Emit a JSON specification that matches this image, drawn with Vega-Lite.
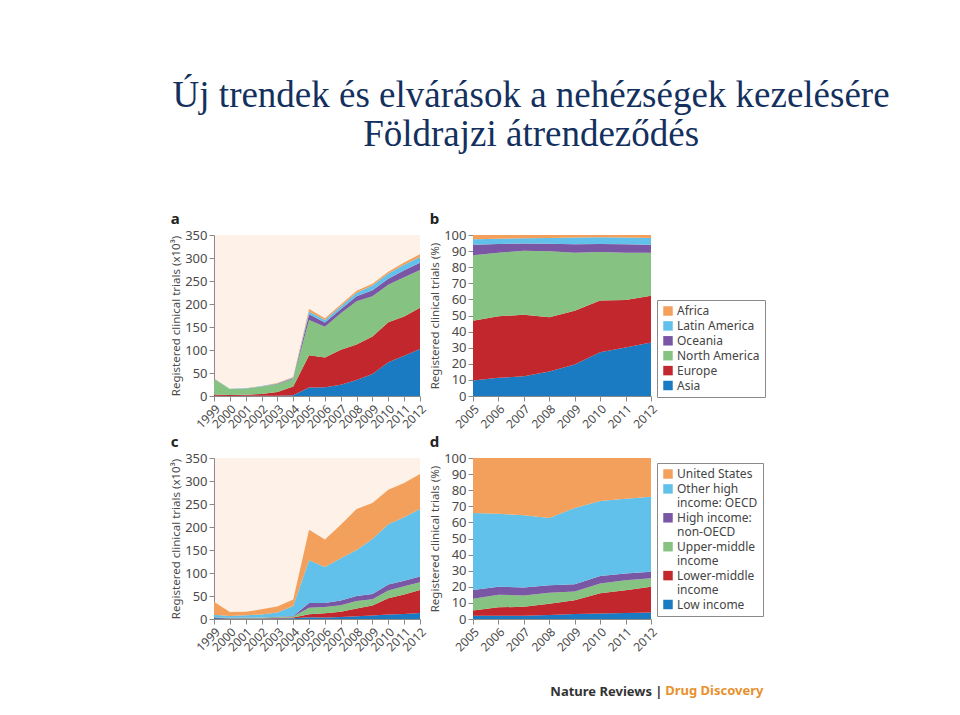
{
  "$schema": "https://vega.github.io/schema/vega-lite/v6.json",
  "background": "white",
  "padding": {"left": 170, "top": 77, "right": 5, "bottom": 5},
  "title": {
    "text": ["Új trendek és elvárások a nehézségek kezelésére", "Földrajzi átrendeződés"],
    "font": "Liberation Serif",
    "fontSize": 37,
    "fontWeight": "normal",
    "color": "#13305e",
    "lineHeight": 39,
    "anchor": "middle",
    "frame": "bounds",
    "dx": 63,
    "offset": 58
  },
  "datasets": {
    "regionOrder": [
      {"region": "Asia", "k": 1}, {"region": "Europe", "k": 2}, {"region": "North America", "k": 3},
      {"region": "Oceania", "k": 4}, {"region": "Latin America", "k": 5}, {"region": "Africa", "k": 6}
    ],
    "incomeOrder": [
      {"group": "Low income", "k": 1}, {"group": "Lower-middle income", "k": 2}, {"group": "Upper-middle income", "k": 3},
      {"group": "High income: non-OECD", "k": 4}, {"group": "Other high income: OECD", "k": 5}, {"group": "United States", "k": 6}
    ],
    "regions": [
      {"year": 1999, "region": "Asia", "value": 0.3}, {"year": 1999, "region": "Europe", "value": 3}, {"year": 1999, "region": "North America", "value": 33}, {"year": 1999, "region": "Oceania", "value": 0.5}, {"year": 1999, "region": "Latin America", "value": 0.5}, {"year": 1999, "region": "Africa", "value": 0.5},
      {"year": 2000, "region": "Asia", "value": 0.2}, {"year": 2000, "region": "Europe", "value": 2}, {"year": 2000, "region": "North America", "value": 12.8}, {"year": 2000, "region": "Oceania", "value": 0.3}, {"year": 2000, "region": "Latin America", "value": 0.4}, {"year": 2000, "region": "Africa", "value": 0.3},
      {"year": 2001, "region": "Asia", "value": 0.3}, {"year": 2001, "region": "Europe", "value": 2.5}, {"year": 2001, "region": "North America", "value": 13}, {"year": 2001, "region": "Oceania", "value": 0.4}, {"year": 2001, "region": "Latin America", "value": 0.4}, {"year": 2001, "region": "Africa", "value": 0.4},
      {"year": 2002, "region": "Asia", "value": 0.4}, {"year": 2002, "region": "Europe", "value": 4}, {"year": 2002, "region": "North America", "value": 16}, {"year": 2002, "region": "Oceania", "value": 0.5}, {"year": 2002, "region": "Latin America", "value": 0.6}, {"year": 2002, "region": "Africa", "value": 0.5},
      {"year": 2003, "region": "Asia", "value": 0.8}, {"year": 2003, "region": "Europe", "value": 8}, {"year": 2003, "region": "North America", "value": 17}, {"year": 2003, "region": "Oceania", "value": 0.7}, {"year": 2003, "region": "Latin America", "value": 0.8}, {"year": 2003, "region": "Africa", "value": 0.7},
      {"year": 2004, "region": "Asia", "value": 1.5}, {"year": 2004, "region": "Europe", "value": 19}, {"year": 2004, "region": "North America", "value": 16.5}, {"year": 2004, "region": "Oceania", "value": 1.5}, {"year": 2004, "region": "Latin America", "value": 1.5}, {"year": 2004, "region": "Africa", "value": 1.5},
      {"year": 2005, "region": "Asia", "value": 18.3}, {"year": 2005, "region": "Europe", "value": 70.1}, {"year": 2005, "region": "North America", "value": 76.7}, {"year": 2005, "region": "Oceania", "value": 12.5}, {"year": 2005, "region": "Latin America", "value": 6.2}, {"year": 2005, "region": "Africa", "value": 5.1},
      {"year": 2006, "region": "Asia", "value": 19.1}, {"year": 2006, "region": "Europe", "value": 64.6}, {"year": 2006, "region": "North America", "value": 66.8}, {"year": 2006, "region": "Oceania", "value": 9.1}, {"year": 2006, "region": "Latin America", "value": 5.6}, {"year": 2006, "region": "Africa", "value": 3.9},
      {"year": 2007, "region": "Asia", "value": 24.3}, {"year": 2007, "region": "Europe", "value": 76.2}, {"year": 2007, "region": "North America", "value": 79.2}, {"year": 2007, "region": "Oceania", "value": 9.0}, {"year": 2007, "region": "Latin America", "value": 6.4}, {"year": 2007, "region": "Africa", "value": 4.0},
      {"year": 2008, "region": "Asia", "value": 35.0}, {"year": 2008, "region": "Europe", "value": 76.9}, {"year": 2008, "region": "North America", "value": 93.9}, {"year": 2008, "region": "Oceania", "value": 10.8}, {"year": 2008, "region": "Latin America", "value": 8.0}, {"year": 2008, "region": "Africa", "value": 4.4},
      {"year": 2009, "region": "Asia", "value": 47.8}, {"year": 2009, "region": "Europe", "value": 81.5}, {"year": 2009, "region": "North America", "value": 87.8}, {"year": 2009, "region": "Oceania", "value": 12.7}, {"year": 2009, "region": "Latin America", "value": 10.2}, {"year": 2009, "region": "Africa", "value": 3.9},
      {"year": 2010, "region": "Asia", "value": 73.4}, {"year": 2010, "region": "Europe", "value": 86.9}, {"year": 2010, "region": "North America", "value": 81.3}, {"year": 2010, "region": "Oceania", "value": 13.2}, {"year": 2010, "region": "Latin America", "value": 11.3}, {"year": 2010, "region": "Africa", "value": 3.8},
      {"year": 2011, "region": "Asia", "value": 87.3}, {"year": 2011, "region": "Europe", "value": 85.6}, {"year": 2011, "region": "North America", "value": 85.0}, {"year": 2011, "region": "Oceania", "value": 15.4}, {"year": 2011, "region": "Latin America", "value": 12.2}, {"year": 2011, "region": "Africa", "value": 4.6},
      {"year": 2012, "region": "Asia", "value": 102.3}, {"year": 2012, "region": "Europe", "value": 89.6}, {"year": 2012, "region": "North America", "value": 82.2}, {"year": 2012, "region": "Oceania", "value": 15.4}, {"year": 2012, "region": "Latin America", "value": 12.6}, {"year": 2012, "region": "Africa", "value": 5.9}
    ],
    "income": [
      {"year": 1999, "group": "Low income", "value": 2}, {"year": 1999, "group": "Lower-middle income", "value": 0.5}, {"year": 1999, "group": "Upper-middle income", "value": 1}, {"year": 1999, "group": "High income: non-OECD", "value": 0.5}, {"year": 1999, "group": "Other high income: OECD", "value": 5}, {"year": 1999, "group": "United States", "value": 28.5},
      {"year": 2000, "group": "Low income", "value": 1}, {"year": 2000, "group": "Lower-middle income", "value": 0.5}, {"year": 2000, "group": "Upper-middle income", "value": 0.5}, {"year": 2000, "group": "High income: non-OECD", "value": 0.5}, {"year": 2000, "group": "Other high income: OECD", "value": 4}, {"year": 2000, "group": "United States", "value": 8.5},
      {"year": 2001, "group": "Low income", "value": 1}, {"year": 2001, "group": "Lower-middle income", "value": 0.5}, {"year": 2001, "group": "Upper-middle income", "value": 1}, {"year": 2001, "group": "High income: non-OECD", "value": 0.5}, {"year": 2001, "group": "Other high income: OECD", "value": 5}, {"year": 2001, "group": "United States", "value": 8},
      {"year": 2002, "group": "Low income", "value": 1}, {"year": 2002, "group": "Lower-middle income", "value": 0.5}, {"year": 2002, "group": "Upper-middle income", "value": 1.5}, {"year": 2002, "group": "High income: non-OECD", "value": 0.5}, {"year": 2002, "group": "Other high income: OECD", "value": 6.5}, {"year": 2002, "group": "United States", "value": 11},
      {"year": 2003, "group": "Low income", "value": 1}, {"year": 2003, "group": "Lower-middle income", "value": 1}, {"year": 2003, "group": "Upper-middle income", "value": 2}, {"year": 2003, "group": "High income: non-OECD", "value": 1}, {"year": 2003, "group": "Other high income: OECD", "value": 9}, {"year": 2003, "group": "United States", "value": 13},
      {"year": 2004, "group": "Low income", "value": 1.5}, {"year": 2004, "group": "Lower-middle income", "value": 2}, {"year": 2004, "group": "Upper-middle income", "value": 2}, {"year": 2004, "group": "High income: non-OECD", "value": 1}, {"year": 2004, "group": "Other high income: OECD", "value": 21.5}, {"year": 2004, "group": "United States", "value": 14.5},
      {"year": 2005, "group": "Low income", "value": 3.9}, {"year": 2005, "group": "Lower-middle income", "value": 6.4}, {"year": 2005, "group": "Upper-middle income", "value": 14}, {"year": 2005, "group": "High income: non-OECD", "value": 10.5}, {"year": 2005, "group": "Other high income: OECD", "value": 92.9}, {"year": 2005, "group": "United States", "value": 66.3},
      {"year": 2006, "group": "Low income", "value": 3.5}, {"year": 2006, "group": "Lower-middle income", "value": 9}, {"year": 2006, "group": "Upper-middle income", "value": 13.5}, {"year": 2006, "group": "High income: non-OECD", "value": 8.7}, {"year": 2006, "group": "Other high income: OECD", "value": 78.5}, {"year": 2006, "group": "United States", "value": 59.8},
      {"year": 2007, "group": "Low income", "value": 4.1}, {"year": 2007, "group": "Lower-middle income", "value": 11.5}, {"year": 2007, "group": "Upper-middle income", "value": 14.4}, {"year": 2007, "group": "High income: non-OECD", "value": 10}, {"year": 2007, "group": "Other high income: OECD", "value": 92}, {"year": 2007, "group": "United States", "value": 73},
      {"year": 2008, "group": "Low income", "value": 6}, {"year": 2008, "group": "Lower-middle income", "value": 16.7}, {"year": 2008, "group": "Upper-middle income", "value": 16.3}, {"year": 2008, "group": "High income: non-OECD", "value": 11.2}, {"year": 2008, "group": "Other high income: OECD", "value": 99.9}, {"year": 2008, "group": "United States", "value": 88.9},
      {"year": 2009, "group": "Low income", "value": 7.8}, {"year": 2009, "group": "Lower-middle income", "value": 21.7}, {"year": 2009, "group": "Upper-middle income", "value": 13.4}, {"year": 2009, "group": "High income: non-OECD", "value": 11.6}, {"year": 2009, "group": "Other high income: OECD", "value": 119.4}, {"year": 2009, "group": "United States", "value": 78.1},
      {"year": 2010, "group": "Low income", "value": 9.8}, {"year": 2010, "group": "Lower-middle income", "value": 35.1}, {"year": 2010, "group": "Upper-middle income", "value": 16.9}, {"year": 2010, "group": "High income: non-OECD", "value": 13.2}, {"year": 2010, "group": "Other high income: OECD", "value": 130.9}, {"year": 2010, "group": "United States", "value": 75.1},
      {"year": 2011, "group": "Low income", "value": 11}, {"year": 2011, "group": "Lower-middle income", "value": 42}, {"year": 2011, "group": "Upper-middle income", "value": 18}, {"year": 2011, "group": "High income: non-OECD", "value": 12.4}, {"year": 2011, "group": "Other high income: OECD", "value": 137.6}, {"year": 2011, "group": "United States", "value": 74.9},
      {"year": 2012, "group": "Low income", "value": 12.9}, {"year": 2012, "group": "Lower-middle income", "value": 50.1}, {"year": 2012, "group": "Upper-middle income", "value": 16.7}, {"year": 2012, "group": "High income: non-OECD", "value": 12.9}, {"year": 2012, "group": "Other high income: OECD", "value": 146.8}, {"year": 2012, "group": "United States", "value": 75.6}
    ]
  },
  "config": {
    "font": "Noto Sans",
    "view": {"fill": "#fdf1e8", "stroke": null},
    "axis": {
      "labelFont": "Noto Sans", "labelFontSize": 13, "labelColor": "#4a4a4a",
      "titleFont": "Noto Sans", "titleFontSize": 11.5, "titleFontWeight": "normal", "titleColor": "#4a4a4a",
      "domainColor": "#8a8a8a", "tickColor": "#8a8a8a", "tickSize": 5, "grid": false,
      "labelPadding": 2, "titlePadding": 3
    },
    "axisX": {"labelFontSize": 12, "labelAngle": -45, "labelOverlap": false, "labelBound": false},
    "legend": {
      "orient": "none", "strokeColor": "#8a8a8a", "padding": 5, "fillColor": "white",
      "labelFont": "Noto Sans", "labelFontSize": 12, "labelColor": "#444444",
      "symbolType": "square", "symbolSize": 90, "symbolStrokeWidth": 0, "symbolOpacity": 1,
      "rowPadding": 2.9, "labelOffset": 3
    },
    "title": {"font": "Noto Sans", "fontSize": 15, "fontWeight": "bold", "color": "#222222", "anchor": "start", "frame": "bounds", "offset": 2}
  },
  "vconcat": [
    {
      "title": {"text": "Nature Reviews |", "orient": "bottom", "anchor": "end", "dx": -103, "offset": -12, "fontSize": 13, "color": "#333333"},
      "spacing": 4,
      "vconcat": [
        {
          "spacing": 1,
          "hconcat": [
            {
              "width": 206, "height": 161,
              "title": "a",
              "data": {"name": "regions"},
              "transform": [{"lookup": "region", "from": {"data": {"name": "regionOrder"}, "key": "region", "fields": ["k"]}}],
              "mark": {"type": "area"},
              "encoding": {
                "x": {"field": "year", "type": "quantitative", "scale": {"domain": [1999, 2012], "nice": false, "zero": false}, "axis": {"values": [1999, 2000, 2001, 2002, 2003, 2004, 2005, 2006, 2007, 2008, 2009, 2010, 2011, 2012], "format": "d", "title": null}},
                "y": {"field": "value", "type": "quantitative", "stack": "zero", "scale": {"domain": [0, 350], "nice": false}, "axis": {"values": [0, 50, 100, 150, 200, 250, 300, 350], "title": "Registered clinical trials (x10³)"}},
                "color": {"field": "region", "type": "nominal", "scale": {"domain": ["Africa", "Latin America", "Oceania", "North America", "Europe", "Asia"], "range": ["#f2a05c", "#62c1ea", "#7a57a5", "#86c383", "#c1272d", "#1b7bc2"]}, "legend": null},
                "order": {"field": "k", "type": "quantitative"}
              }
            },
            {
              "width": 178, "height": 161,
              "title": "b",
              "data": {"name": "regions"},
              "transform": [
                {"filter": "datum.year >= 2005"},
                {"lookup": "region", "from": {"data": {"name": "regionOrder"}, "key": "region", "fields": ["k"]}}
              ],
              "mark": {"type": "area"},
              "encoding": {
                "x": {"field": "year", "type": "quantitative", "scale": {"domain": [2005, 2012], "nice": false, "zero": false}, "axis": {"values": [2005, 2006, 2007, 2008, 2009, 2010, 2011, 2012], "format": "d", "title": null}},
                "y": {"field": "value", "type": "quantitative", "stack": "normalize", "scale": {"domain": [0, 1], "nice": false}, "axis": {"values": [0, 0.1, 0.2, 0.3, 0.4, 0.5, 0.6, 0.7, 0.8, 0.9, 1], "labelExpr": "format(datum.value * 100, 'd')", "title": "Registered clinical trials (%)"}},
                "color": {"field": "region", "type": "nominal", "scale": {"domain": ["Africa", "Latin America", "Oceania", "North America", "Europe", "Asia"], "range": ["#f2a05c", "#62c1ea", "#7a57a5", "#86c383", "#c1272d", "#1b7bc2"]}, "legend": {"title": null, "legendX": 184, "legendY": 65}},
                "order": {"field": "k", "type": "quantitative"}
              }
            }
          ],
          "resolve": {"scale": {"color": "independent"}, "legend": {"color": "independent"}}
        },
        {
          "spacing": 1,
          "title": {"text": "Drug Discovery", "orient": "bottom", "anchor": "end", "offset": 32, "fontSize": 13, "color": "#e8912c"},
          "hconcat": [
            {
              "width": 206, "height": 161,
              "title": "c",
              "data": {"name": "income"},
              "transform": [{"lookup": "group", "from": {"data": {"name": "incomeOrder"}, "key": "group", "fields": ["k"]}}],
              "mark": {"type": "area"},
              "encoding": {
                "x": {"field": "year", "type": "quantitative", "scale": {"domain": [1999, 2012], "nice": false, "zero": false}, "axis": {"values": [1999, 2000, 2001, 2002, 2003, 2004, 2005, 2006, 2007, 2008, 2009, 2010, 2011, 2012], "format": "d", "title": null}},
                "y": {"field": "value", "type": "quantitative", "stack": "zero", "scale": {"domain": [0, 350], "nice": false}, "axis": {"values": [0, 50, 100, 150, 200, 250, 300, 350], "title": "Registered clinical trials (x10³)"}},
                "color": {"field": "group", "type": "nominal", "scale": {"domain": ["United States", "Other high income: OECD", "High income: non-OECD", "Upper-middle income", "Lower-middle income", "Low income"], "range": ["#f2a05c", "#62c1ea", "#7a57a5", "#86c383", "#c1272d", "#1b7bc2"]}, "legend": null},
                "order": {"field": "k", "type": "quantitative"}
              }
            },
            {
              "width": 178, "height": 161,
              "title": "d",
              "data": {"name": "income"},
              "transform": [
                {"filter": "datum.year >= 2005"},
                {"lookup": "group", "from": {"data": {"name": "incomeOrder"}, "key": "group", "fields": ["k"]}}
              ],
              "mark": {"type": "area"},
              "encoding": {
                "x": {"field": "year", "type": "quantitative", "scale": {"domain": [2005, 2012], "nice": false, "zero": false}, "axis": {"values": [2005, 2006, 2007, 2008, 2009, 2010, 2011, 2012], "format": "d", "title": null}},
                "y": {"field": "value", "type": "quantitative", "stack": "normalize", "scale": {"domain": [0, 1], "nice": false}, "axis": {"values": [0, 0.1, 0.2, 0.3, 0.4, 0.5, 0.6, 0.7, 0.8, 0.9, 1], "labelExpr": "format(datum.value * 100, 'd')", "title": "Registered clinical trials (%)"}},
                "color": {"field": "group", "type": "nominal", "scale": {"domain": ["United States", "Other high income: OECD", "High income: non-OECD", "Upper-middle income", "Lower-middle income", "Low income"], "range": ["#f2a05c", "#62c1ea", "#7a57a5", "#86c383", "#c1272d", "#1b7bc2"]}, "legend": {"title": null, "legendX": 184, "legendY": 5, "labelExpr": "split(replace(replace(replace(datum.label, 'Other high income', 'Other high|income'), 'High income: non', 'High income:|non'), 'middle income', 'middle|income'), '|')"}},
                "order": {"field": "k", "type": "quantitative"}
              }
            }
          ],
          "resolve": {"scale": {"color": "independent"}, "legend": {"color": "independent"}}
        }
      ],
      "resolve": {"scale": {"color": "independent"}, "legend": {"color": "independent"}}
    }
  ],
  "resolve": {"scale": {"color": "independent"}, "legend": {"color": "independent"}}
}
